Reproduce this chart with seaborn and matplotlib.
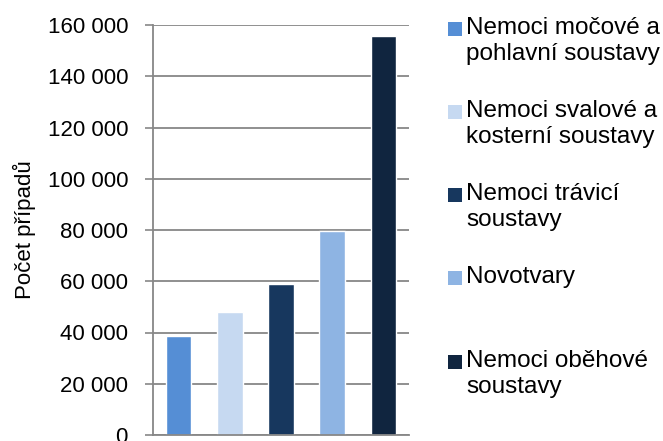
import matplotlib
matplotlib.use("Agg")
import matplotlib.pyplot as plt
from matplotlib.patches import Rectangle
from matplotlib.ticker import FuncFormatter
import seaborn as sns
import pandas as pd

categories = [
    "Nemoci močové a\npohlavní soustavy",
    "Nemoci svalové a\nkosterní soustavy",
    "Nemoci trávicí\nsoustavy",
    "Novotvary",
    "Nemoci oběhové\nsoustavy",
]
cases = [38500, 47900, 58900, 79600, 155600]
colors = ["#558ED5", "#C6D9F1", "#17375E", "#8EB4E3", "#10253F"]
y_ticks = [0, 20000, 40000, 60000, 80000, 100000, 120000, 140000, 160000]

sns.set_theme(style="white")
plt.rcParams["font.family"] = ["Liberation Sans", "DejaVu Sans"]

df = pd.DataFrame({"kategorie": categories, "pocet": cases})

fig = plt.figure(figsize=(6.63, 4.41), dpi=100)
W, H = 663, 441
ax = fig.add_axes([153 / W, 1 - 435 / H, 256 / W, 410 / H])

sns.barplot(data=df, x="kategorie", y="pocet", hue="kategorie",
            palette=colors, width=0.5, legend=False, ax=ax,
            saturation=1)

grid_c = "#878787"
ax.set_ylim(0, 160000)
ax.set_xlim(-0.5, 4.5)
ax.set_yticks(y_ticks)
ax.yaxis.set_major_formatter(FuncFormatter(lambda v, p: f"{int(v):,}".replace(",", " ")))
ax.set_xticks([])
ax.set_xlabel("")
ax.set_ylabel("Počet případů", fontsize=16, color="black", labelpad=8)
ax.tick_params(axis="y", which="major", left=True, length=6, width=1.2,
               color=grid_c, labelsize=16, labelcolor="black", pad=12)
ax.yaxis.grid(True, color=grid_c, linewidth=1.3)
ax.set_axisbelow(True)
for s in ["top", "right"]:
    ax.spines[s].set_visible(False)
for s in ["left", "bottom"]:
    ax.spines[s].set_color(grid_c)
    ax.spines[s].set_linewidth(1.3)

# legend drawn as squares plus text, first line aligned with the marker
first_baselines = [37, 120, 203, 286, 370]
for name, col, yb in zip(categories, colors, first_baselines):
    fig.add_artist(Rectangle((448 / W, 1 - (yb - 1) / H), 14 / W, 14 / H,
                             transform=fig.transFigure, facecolor=col,
                             edgecolor="none"))
    fig.text(466 / W, 1 - (yb - 20) / H, name, fontsize=17.5, color="black",
             va="top", ha="left", linespacing=1.22)

fig.savefig("out.png", dpi=100)
